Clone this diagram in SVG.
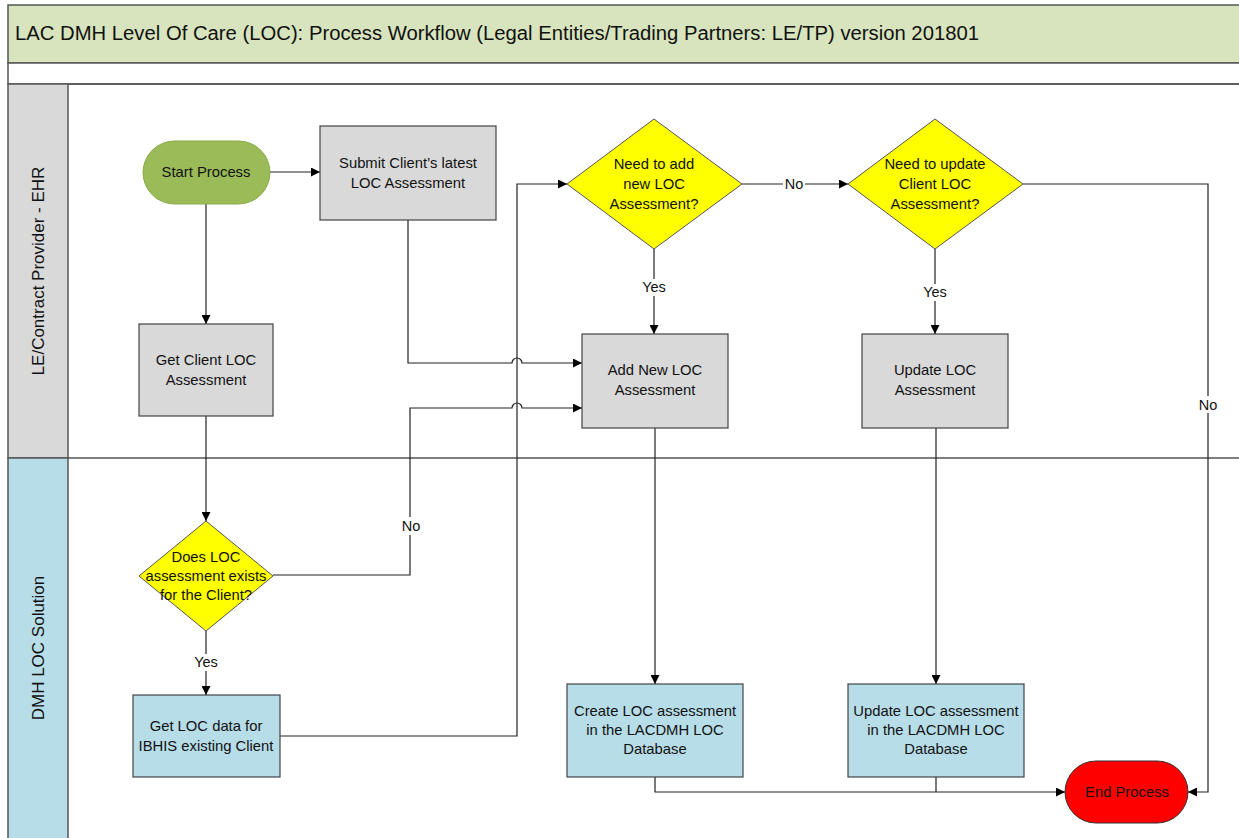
<svg xmlns="http://www.w3.org/2000/svg" width="1239" height="838" viewBox="0 0 1239 838">
<defs>
<marker id="arr" viewBox="0 0 10 10" refX="10" refY="5" markerWidth="9" markerHeight="9" markerUnits="userSpaceOnUse" orient="auto">
<path d="M0,0 L10,5 L0,10 z" fill="#000"/>
</marker>
<style>
text{font-family:"Liberation Sans",Arial,sans-serif;fill:#111;}
.t{font-size:14.8px;text-anchor:middle;}
.lbl{font-size:14.5px;text-anchor:middle;}
.proc{fill:#d9d9d9;stroke:#444;stroke-width:1.2;}
.proc2{fill:#b7dde8;stroke:#444;stroke-width:1.2;}
.dec{fill:#ffff00;stroke:#555;stroke-width:1;}
.c{fill:none;stroke:#222;stroke-width:1.2;}
.ca{fill:none;stroke:#222;stroke-width:1.2;marker-end:url(#arr);}
.frame{stroke:#555;stroke-width:1.5;}
</style>
</defs>
<rect width="1239" height="838" fill="#fff"/>
<!-- frame -->
<g id="frame">
<rect x="8" y="5" width="1240" height="58" fill="#d7e4bd" class="frame"/>
<rect x="8" y="63" width="1240" height="21" fill="#fff" class="frame"/>
<rect x="8" y="84" width="60" height="374" fill="#d9d9d9" class="frame"/>
<rect x="8" y="458" width="60" height="385" fill="#b7dde8" class="frame"/>
<line x1="68" y1="84" x2="1239" y2="84" class="frame"/>
<line x1="68" y1="458" x2="1239" y2="458" class="frame"/>
<text x="15" y="40" style="font-size:20px" textLength="964" lengthAdjust="spacingAndGlyphs">LAC DMH Level Of Care (LOC): Process Workflow (Legal Entities/Trading Partners: LE/TP) version 201801</text>
<text transform="translate(44,271) rotate(-90)" style="font-size:17px;text-anchor:middle">LE/Contract Provider - EHR</text>
<text transform="translate(44,648) rotate(-90)" style="font-size:17px;text-anchor:middle">DMH LOC Solution</text>
</g>
<!-- connectors -->
<g id="connectors">
<path class="ca" d="M270,172 H320"/>
<path class="ca" d="M206,204 V324"/>
<path class="ca" d="M408,220 V363 H512 A5,5 0 0 1 522,363 H582"/>
<path class="ca" d="M206,416 V521"/>
<path class="ca" d="M273,575 H410 V408 H512 A5,5 0 0 1 522,408 H582"/>
<path class="ca" d="M206,631 V695"/>
<path class="ca" d="M280,736 H517 V184 H567"/>
<path class="ca" d="M742,184 H848"/>
<path class="ca" d="M654,249 V334"/>
<path class="ca" d="M935,249 V334"/>
<path class="ca" d="M1023,184 H1208 V792 H1188"/>
<path class="ca" d="M655,428 V684"/>
<path class="ca" d="M936,428 V684"/>
<path class="ca" d="M655,777 V792 H1065"/>
<path class="c" d="M936,777 V792"/>
<rect x="400" y="517" width="22" height="18" fill="#fff"/>
<text class="lbl" x="411" y="531">No</text>
<rect x="193" y="654" width="26" height="17" fill="#fff"/>
<text class="lbl" x="206" y="667">Yes</text>
<rect x="783" y="176" width="22" height="16" fill="#fff"/>
<text class="lbl" x="794" y="189">No</text>
<rect x="640" y="279" width="28" height="17" fill="#fff"/>
<text class="lbl" x="654" y="292">Yes</text>
<rect x="921" y="284" width="28" height="17" fill="#fff"/>
<text class="lbl" x="935" y="297">Yes</text>
<rect x="1196" y="396" width="24" height="17" fill="#fff"/>
<text class="lbl" x="1208" y="410">No</text>
</g>
<!-- nodes -->
<g id="start">
<rect x="143" y="141" width="127" height="63" rx="31.5" fill="#9bbb59" stroke="#8aab4a" stroke-width="1"/>
<text class="t" x="206" y="177">Start Process</text>
</g>
<g id="submit">
<rect class="proc" x="320" y="126" width="176" height="94"/>
<text class="t" x="408" y="168">Submit Client’s latest</text>
<text class="t" x="408" y="188">LOC Assessment</text>
</g>
<g id="getclient">
<rect class="proc" x="139" y="324" width="134" height="92"/>
<text class="t" x="206" y="365">Get Client LOC</text>
<text class="t" x="206" y="385">Assessment</text>
</g>
<g id="needadd">
<polygon class="dec" points="654,119 742,184 654,249 567,184"/>
<text class="t" x="654" y="169">Need to add</text>
<text class="t" x="654" y="189">new LOC</text>
<text class="t" x="654" y="209">Assessment?</text>
</g>
<g id="needupdate">
<polygon class="dec" points="935,119 1023,184 935,249 848,184"/>
<text class="t" x="935" y="169">Need to update</text>
<text class="t" x="935" y="189">Client LOC</text>
<text class="t" x="935" y="209">Assessment?</text>
</g>
<g id="addnew">
<rect class="proc" x="582" y="334" width="146" height="94"/>
<text class="t" x="655" y="375">Add New LOC</text>
<text class="t" x="655" y="395">Assessment</text>
</g>
<g id="updateloc">
<rect class="proc" x="862" y="334" width="146" height="94"/>
<text class="t" x="935" y="375">Update LOC</text>
<text class="t" x="935" y="395">Assessment</text>
</g>
<g id="exists">
<polygon class="dec" points="206,521 273,576 206,631 139,576"/>
<text class="t" x="206" y="562">Does LOC</text>
<text class="t" x="206" y="581">assessment exists</text>
<text class="t" x="206" y="600">for the Client?</text>
</g>
<g id="getdata">
<rect class="proc2" x="133" y="695" width="147" height="82"/>
<text class="t" x="206" y="731">Get LOC data for</text>
<text class="t" x="206" y="751">IBHIS existing Client</text>
</g>
<g id="create">
<rect class="proc2" x="567" y="684" width="176" height="93"/>
<text class="t" x="655" y="716">Create LOC assessment</text>
<text class="t" x="655" y="735">in the LACDMH LOC</text>
<text class="t" x="655" y="754">Database</text>
</g>
<g id="updatedb">
<rect class="proc2" x="848" y="684" width="176" height="93"/>
<text class="t" x="936" y="716">Update LOC assessment</text>
<text class="t" x="936" y="735">in the LACDMH LOC</text>
<text class="t" x="936" y="754">Database</text>
</g>
<g id="end">
<rect x="1065" y="761" width="123" height="62" rx="31" fill="#ff0000" stroke="#333" stroke-width="1"/>
<text class="t" x="1127" y="797">End Process</text>
</g>
</svg>
